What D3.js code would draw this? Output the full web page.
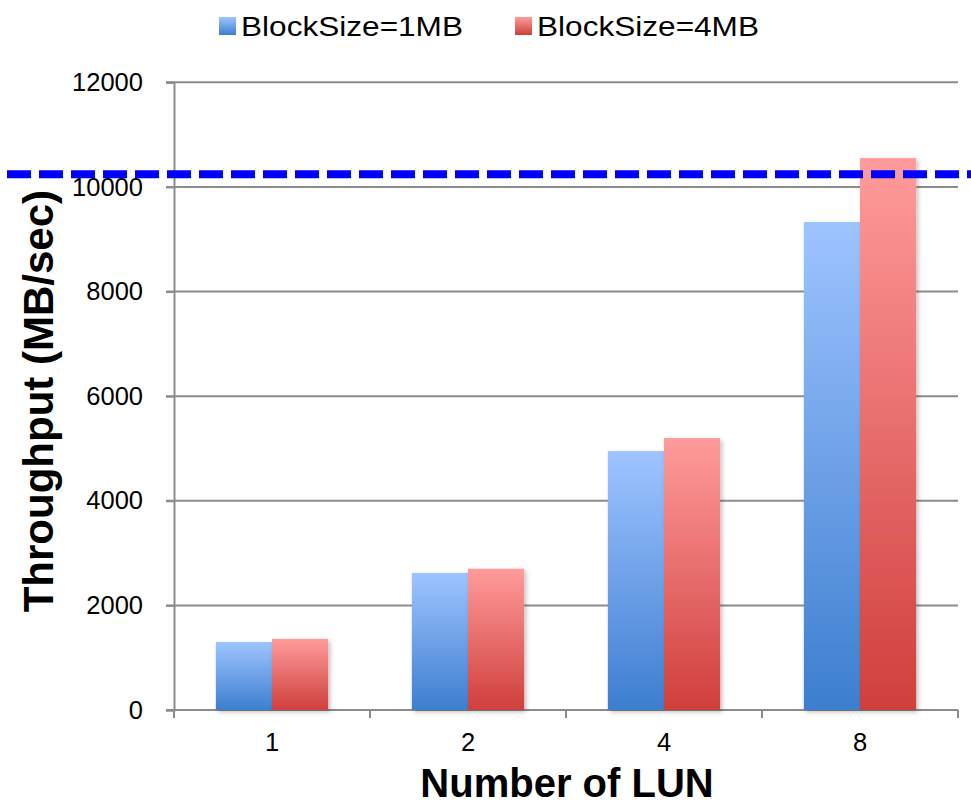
<!DOCTYPE html>
<html>
<head>
<meta charset="utf-8">
<script src="https://cdn.jsdelivr.net/npm/d3@7"></script>
<style>
  html, body { margin: 0; padding: 0; background: #fff; }
  svg { display: block; font-family: Arial, "Liberation Sans", Helvetica, sans-serif; }
</style>
</head>
<body>
<svg id="chart" width="971" height="805"></svg>
<script>
// Throughput by number of LUNs, for two block sizes
const luns = ["1", "2", "4", "8"];
const seriesNames = ["BlockSize=1MB", "BlockSize=4MB"];
const throughput1MB = [1300, 2620, 4950, 9330];
const throughput4MB = [1360, 2700, 5200, 10550];
const yTicks = [0, 2000, 4000, 6000, 8000, 10000, 12000];
const ceilingValue = 10240; // dashed reference line

const seriesValues = [throughput1MB, throughput4MB];
const gradientStops = [
  { top: "#9ec4ff", bottom: "#3d7ecf" },
  { top: "#ff9b9b", bottom: "#cf3f3c" }
];

const svg = d3.select("#chart");
const W = 971, H = 805;
const plot = { left: 174, right: 958, top: 82.3, bottom: 710 };

const defs = svg.append("defs");
gradientStops.forEach((g, i) => {
  const lg = defs.append("linearGradient")
    .attr("id", "grad" + i)
    .attr("x1", 0).attr("y1", 0).attr("x2", 0).attr("y2", 1);
  lg.append("stop").attr("offset", "0%").attr("stop-color", g.top);
  lg.append("stop").attr("offset", "100%").attr("stop-color", g.bottom);
});
const shadow = defs.append("filter").attr("id", "shadow")
  .attr("x", "-10%").attr("y", "-10%").attr("width", "130%").attr("height", "130%");
shadow.append("feDropShadow")
  .attr("dx", 2).attr("dy", 2).attr("stdDeviation", 2)
  .attr("flood-color", "#000").attr("flood-opacity", 0.25);

const y = d3.scaleLinear().domain([0, 12000]).range([plot.bottom, plot.top]);
const x0 = d3.scaleBand().domain(luns).range([plot.left, plot.right]).padding(0);
const groupW = x0.bandwidth() * 0.573;
const x1 = d3.scaleBand().domain(seriesNames).range([0, groupW]).padding(0);

const gridColor = "#8c8c8c";

// Horizontal gridlines
svg.append("g")
  .selectAll("line")
  .data(yTicks)
  .join("line")
  .attr("x1", plot.left - 8)
  .attr("x2", plot.right)
  .attr("y1", d => y(d))
  .attr("y2", d => y(d))
  .attr("stroke", gridColor)
  .attr("stroke-width", 2);

// Y axis
const yAxis = svg.append("g")
  .attr("transform", `translate(${plot.left},0)`)
  .call(d3.axisLeft(y).tickValues(yTicks).tickSize(8).tickPadding(24).tickFormat(d3.format("d")));
yAxis.select(".domain").attr("stroke", gridColor).attr("stroke-width", 2);
yAxis.selectAll(".tick line").attr("stroke", gridColor).attr("stroke-width", 2);
yAxis.selectAll(".tick text")
  .attr("font-size", 25.5)
  .attr("font-family", "Arial, 'Liberation Sans', sans-serif")
  .attr("fill", "#000")
  .attr("x", -31);

// X axis with tick marks at category boundaries
const xAxisG = svg.append("g").attr("transform", `translate(0,${plot.bottom})`);
xAxisG.append("line")
  .attr("x1", plot.left).attr("x2", plot.right)
  .attr("stroke", gridColor).attr("stroke-width", 2);
const boundaries = luns.map(d => x0(d)).concat([x0(luns[luns.length - 1]) + x0.bandwidth()]);
xAxisG.selectAll("line.tk")
  .data(boundaries)
  .join("line")
  .attr("class", "tk")
  .attr("x1", d => d).attr("x2", d => d)
  .attr("y1", 0).attr("y2", 8)
  .attr("stroke", gridColor).attr("stroke-width", 2);
xAxisG.selectAll("text")
  .data(luns)
  .join("text")
  .attr("x", d => x0(d) + x0.bandwidth() / 2)
  .attr("y", 41)
  .attr("text-anchor", "middle")
  .attr("font-size", 25.5)
  .attr("fill", "#000")
  .text(d => d);

// Bars
const groups = svg.append("g")
  .selectAll("g")
  .data(luns)
  .join("g")
  .attr("transform", d => `translate(${x0(d) + (x0.bandwidth() - groupW) / 2},0)`);

groups.selectAll("rect")
  .data((d, i) => seriesNames.map((s, si) => ({ s, si, v: seriesValues[si][i] })))
  .join("rect")
  .attr("x", d => x1(d.s))
  .attr("y", d => y(d.v))
  .attr("width", x1.bandwidth())
  .attr("height", d => y(0) - y(d.v))
  .attr("fill", d => `url(#grad${d.si})`)
  .attr("filter", "url(#shadow)");

// Axis titles
svg.append("text")
  .attr("transform", `translate(53,${(plot.top + plot.bottom) / 2 + 5}) rotate(-90)`)
  .attr("text-anchor", "middle")
  .attr("font-size", 42)
  .attr("font-weight", "bold")
  .attr("fill", "#000")
  .text("Throughput (MB/sec)");

svg.append("text")
  .attr("x", (plot.left + plot.right) / 2 + 1)
  .attr("y", 797)
  .attr("text-anchor", "middle")
  .attr("font-size", 40)
  .attr("font-weight", "bold")
  .attr("fill", "#000")
  .text("Number of LUN");

// Dashed reference line across the full width
svg.append("line")
  .attr("x1", 7).attr("x2", W)
  .attr("y1", y(ceilingValue)).attr("y2", y(ceilingValue))
  .attr("stroke", "#0000ff")
  .attr("stroke-width", 8)
  .attr("stroke-dasharray", "24 8");

// Legend
const legendX = [219, 515];
const legend = svg.append("g")
  .selectAll("g")
  .data(seriesNames)
  .join("g")
  .attr("transform", (d, i) => `translate(${legendX[i]},17)`);
legend.append("rect")
  .attr("width", 17).attr("height", 18)
  .attr("fill", (d, i) => `url(#grad${i})`);
legend.append("text")
  .attr("x", 22)
  .attr("y", 18.5)
  .attr("font-size", 27)
  .attr("textLength", 222)
  .attr("lengthAdjust", "spacingAndGlyphs")
  .attr("fill", "#000")
  .text(d => d);
</script>
</body>
</html>
